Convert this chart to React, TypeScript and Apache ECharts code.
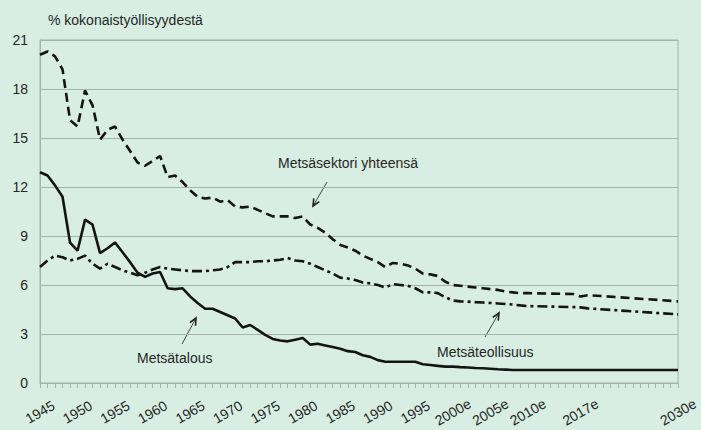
import React, { useEffect, useRef } from "react";
import * as echarts from "echarts";

// Categories: yearly 1945–2030 (estimates from 2000 on are marked "e")
const years: string[] = [];
for (let y = 1945; y <= 2030; y++) years.push(y >= 2000 ? `${y}e` : `${y}`);

// Tick labels that are printed on the x axis
const shownLabels = [
  "1945", "1950", "1955", "1960", "1965", "1970", "1975", "1980", "1985",
  "1990", "1995", "2000e", "2005e", "2010e", "2017e", "2030e",
];

const yTicks = { min: 0, max: 21, interval: 3 };

// Metsäsektori yhteensä (dashed)
const sectorTotal: (number | null)[] = [
  20.1, 20.3, 20.0, 19.2, 16.1, 15.7, 17.9, 17.0, 14.9, 15.5, // 1945-1954
  15.7, 14.9, 14.2, 13.5, 13.3, 13.6, 13.9, 12.6, 12.7, 12.3, // 1955-1964
  11.8, 11.4, 11.3, 11.35, 11.1, 11.2, 10.8, 10.75, 10.8, 10.6, // 1965-1974
  10.4, 10.2, 10.2, 10.2, 10.1, 10.2, 9.7, 9.5, 9.2, 8.8, // 1975-1984
  8.45, 8.3, 8.1, 7.8, 7.6, 7.4, 7.1, 7.35, 7.3, 7.2, // 1985-1994
  7.0, 6.7, 6.65, 6.55, 6.2, 6.0, 5.95, 5.9, 5.85, 5.8, // 1995-2004
  5.75, 5.7, 5.6, 5.55, 5.5, 5.5, null, null, null, null, // 2005-2014
  null, 5.45, 5.3, 5.38, null, null, null, null, null, null, // 2015-2024
  null, null, null, null, null, 5.0, // 2025-2030
];

// Metsäteollisuus (dash-dot)
const forestIndustry: (number | null)[] = [
  7.1, 7.5, 7.8, 7.7, 7.5, 7.6, 7.8, 7.3, 7.0, 7.3, // 1945-1954
  7.1, 6.9, 6.75, 6.6, 6.75, 6.95, 7.1, 7.0, 6.95, 6.9, // 1955-1964
  6.85, 6.85, 6.85, 6.9, 6.95, 7.1, 7.4, 7.4, 7.4, 7.45, // 1965-1974
  7.45, 7.5, 7.55, 7.65, 7.5, 7.45, 7.3, 7.1, 6.9, 6.7, // 1975-1984
  6.45, 6.4, 6.3, 6.15, 6.1, 6.0, 5.85, 6.05, 6.0, 5.95, // 1985-1994
  5.8, 5.55, 5.55, 5.5, 5.25, 5.05, 5.0, 4.98, 4.95, 4.93, // 1995-2004
  4.9, 4.87, 4.84, 4.8, 4.75, 4.71, null, null, null, null, // 2005-2014
  null, 4.65, 4.63, 4.57, null, null, null, null, null, null, // 2015-2024
  null, null, null, null, null, 4.2, // 2025-2030
];

// Metsätalous (solid)
const forestry: (number | null)[] = [
  12.9, 12.7, 12.1, 11.4, 8.6, 8.1, 10.0, 9.7, 7.95, 8.25, // 1945-1954
  8.6, 8.0, 7.4, 6.75, 6.5, 6.7, 6.8, 5.8, 5.75, 5.8, // 1955-1964
  5.3, 4.9, 4.55, 4.55, 4.35, 4.15, 3.95, 3.4, 3.55, 3.25, // 1965-1974
  2.95, 2.7, 2.6, 2.55, 2.65, 2.75, 2.35, 2.4, 2.3, 2.2, // 1975-1984
  2.1, 1.95, 1.9, 1.7, 1.6, 1.4, 1.3, 1.3, 1.3, 1.3, // 1985-1994
  1.3, 1.15, 1.1, 1.05, 1.0, 1.0, 0.97, 0.95, 0.92, 0.9, // 1995-2004
  0.87, 0.84, 0.82, 0.8, 0.8, 0.8, null, null, null, null, // 2005-2014
  null, 0.8, 0.8, 0.8, null, null, null, null, null, null, // 2015-2024
  null, null, null, null, null, 0.8, // 2025-2030
];

const FONT = '"Liberation Sans", Arial, sans-serif';
const TEXT = "#262626";
const GRID = "#a4b2aa";
const BG = "#d8eee2";

function arrow(x1: number, y1: number, x2: number, y2: number) {
  const dx = x2 - x1, dy = y2 - y1;
  const len = Math.hypot(dx, dy);
  const ux = dx / len, uy = dy / len;
  const s = 7, w = 3.2;
  const bx = x2 - ux * s, by = y2 - uy * s;
  const px = -uy, py = ux;
  return [
    { type: "line", shape: { x1, y1, x2, y2 }, style: { stroke: "#444", lineWidth: 1 } },
    {
      type: "polyline",
      shape: { points: [[bx + px * w, by + py * w], [x2, y2], [bx - px * w, by - py * w]] },
      style: { stroke: "#222", lineWidth: 1.6, fill: null },
    },
  ];
}

function label(text: string, x: number, y: number) {
  return {
    type: "text",
    x,
    y,
    style: { text, fill: TEXT, font: `14px ${FONT}`, verticalAlign: "middle", align: "left" },
  };
}

export default function App() {
  const ref = useRef<HTMLDivElement>(null);
  useEffect(() => {
    if (!ref.current) return;
    const chart = echarts.init(ref.current, null, { renderer: "svg" });
    const lineBase = { type: "line", symbol: "none", connectNulls: true, z: 3 };
    chart.setOption({
      animation: false,
      backgroundColor: BG,
      textStyle: { fontFamily: FONT },
      grid: {
        left: 40, right: 20, top: 40, bottom: 47,
        show: true, borderColor: GRID, borderWidth: 1, backgroundColor: "transparent",
      },
      xAxis: {
        type: "category",
        data: years,
        boundaryGap: false,
        axisLine: { lineStyle: { color: GRID, width: 1 } },
        axisTick: { show: true, interval: 0, length: 5, lineStyle: { color: GRID } },
        axisLabel: {
          interval: (_i: number, v: string) => shownLabels.includes(v),
          rotate: 30,
          align: "center",
          verticalAlign: "middle",
          margin: 29,
          fontSize: 14,
          color: TEXT,
          fontFamily: FONT,
        },
        splitLine: { show: false },
      },
      yAxis: {
        type: "value",
        min: yTicks.min,
        max: yTicks.max,
        interval: yTicks.interval,
        axisLine: { show: true, lineStyle: { color: GRID, width: 1 } },
        axisTick: { show: false },
        axisLabel: { fontSize: 14, color: TEXT, margin: 12, fontFamily: FONT },
        splitLine: { lineStyle: { color: GRID, width: 1 } },
      },
      series: [
        {
          ...lineBase,
          name: "Metsäsektori yhteensä",
          data: sectorTotal,
          lineStyle: { color: "#141414", width: 2.6, type: [9, 5] },
        },
        {
          ...lineBase,
          name: "Metsäteollisuus",
          data: forestIndustry,
          lineStyle: { color: "#141414", width: 2.6, type: [10, 4, 3, 4] },
        },
        {
          ...lineBase,
          name: "Metsätalous",
          data: forestry,
          lineStyle: { color: "#141414", width: 2.6, type: "solid" },
        },
      ],
      graphic: [
        label("% kokonaistyöllisyydestä", 48, 20),
        label("Metsäsektori yhteensä", 278, 163),
        label("Metsätalous", 137, 358),
        label("Metsäteollisuus", 437, 352),
        ...arrow(327, 182, 313, 206),
        ...arrow(182, 344, 196, 318),
        ...arrow(485, 337, 499, 313),
      ],
    });
    return () => chart.dispose();
  }, []);
  return (
    <div
      ref={ref}
      style={{ position: "fixed", left: 0, top: 0, width: 701, height: 430, background: BG }}
    />
  );
}
